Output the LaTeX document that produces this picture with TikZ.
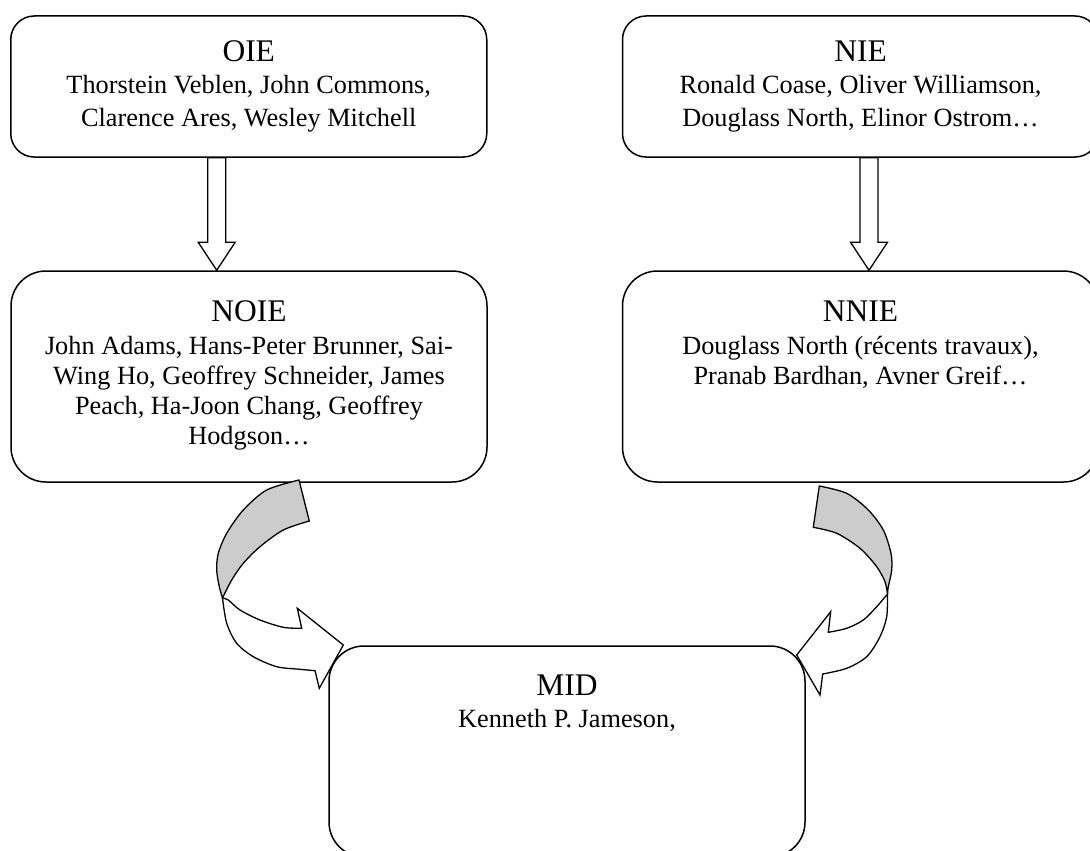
\documentclass[tikz,border=0pt]{standalone}
\usepackage{fontspec}
\setmainfont{Liberation Serif}
\usetikzlibrary{calc}
\begin{document}
\begin{tikzpicture}[x=1pt, y=-1pt, line join=miter,
  box/.style={draw, fill=white, line width=1.5pt, rectangle, rounded corners=#1,
              minimum width=476pt, inner sep=0pt},
  title/.style={anchor=base, inner sep=0pt, font=\fontsize{31.5}{36}\selectfont},
  % multi-line bodies are placed by the baseline of their last line
  body/.style={anchor=base, inner sep=0pt, align=center, font=\fontsize{26.3}{#1}\selectfont},
  blockarrow/.style={draw, fill=white, line width=1.3pt},
  ribbon/.style={draw, line width=1.3pt},
  ribbonback/.style={ribbon, fill=black!20},
  ribbonfront/.style={ribbon, fill=white}]

\useasboundingbox (0,0) rectangle (1090,851);
\clip (0,0) rectangle (1090,851);

% boxes
\node[box=23.5pt, minimum height=141pt] (oie)  at (248.75,86.5) {};
\node[box=23.5pt, minimum height=141pt] (nie)  at (860.5,86.5) {};
\node[box=35pt, minimum height=211pt]   (noie) at (249,376.5) {};
\node[box=35pt, minimum height=211pt]   (nnie) at (860.5,376.5) {};
\node[box=35pt, minimum height=211pt]   (mid)  at (567,751.5) {};

% texts
\node[title] (oiet) at (248.75,62) {OIE};
\node[body=32.5] (oieb) at (248.75,126) {Thorstein Veblen, John Commons,\\Clarence Ares, Wesley Mitchell};
\node[title] (niet) at (860.5,62) {NIE};
\node[body=32.5] (nieb) at (860.5,126) {Ronald Coase, Oliver Williamson,\\Douglass North, Elinor Ostrom…};
\node[title] (noiet) at (249,321) {NOIE};
\node[body=30] (noieb) at (249,444) {John Adams, Hans-Peter Brunner, Sai-\\Wing Ho, Geoffrey Schneider, James\\Peach, Ha-Joon Chang, Geoffrey\\Hodgson…};
\node[title] (nniet) at (860.5,321) {NNIE};
\node[body=30] (nnieb) at (860.5,384) {Douglass North (récents travaux),\\Pranab Bardhan, Avner Greif…};
\node[title] (midt) at (567,695) {MID};
\node[body=30] (midb) at (567,727) {Kenneth P. Jameson,};

% straight block arrows
\coordinate (d1s) at ($(oie.south)+(-32,0)$);
\coordinate (d1e) at ($(noie.north)+(-32.3,0)$);
\coordinate (d2s) at ($(nie.south)+(8.5,0)$);
\coordinate (d2e) at ($(nnie.north)+(8.5,0)$);
\foreach \s/\e in {d1s/d1e, d2s/d2e}{
  \draw[blockarrow] ($(\s)+(-9,0)$) -- ($(\e)+(-9,-28)$) -- ($(\e)+(-18.5,-28)$)
    -- (\e) -- ($(\e)+(18.5,-28)$) -- ($(\e)+(9,-28)$) -- ($(\s)+(9,0)$) -- cycle;
}

% curved arrow from NOIE to MID
\draw[ribbonfront] plot[smooth] coordinates {(222.5,598) (226.7,623.3) (236.7,643.3) (253.3,656.7) (276.7,666.7) (300,669.3) (315,670.7)}
  -- (319.3,688.3) -- (343.3,645) -- (297.3,608.3) -- (301.7,628.3)
  -- plot[smooth] coordinates {(301.7,628.3) (283.3,627.3) (260,620) (240,610) (228.3,600) (222.5,598)} -- cycle;
\draw[ribbonback] plot[smooth] coordinates {(299,480) (266.7,490) (243.3,510) (226.7,533.3) (218.3,553.3) (216.7,570) (219.3,586.7) (222.5,598)}
  -- plot[smooth] coordinates {(222.5,598) (231.7,580) (243.3,563.3) (260,546.7) (283.3,530) (309.3,521)} -- cycle;

% curved arrow from NNIE to MID
\draw[ribbonfront] plot[smooth] coordinates {(887.5,594) (886.7,616.7) (880,636.7) (866.7,656.7) (846.7,668.3) (822.7,674)}
  -- (820,695) -- (796.7,655) -- (830.7,611.7) -- (828.3,632.3)
  -- plot[smooth] coordinates {(828.3,632.3) (846.7,628.3) (863.3,620) (876.7,606.7) (887.5,594)} -- cycle;
\draw[ribbonback] plot[smooth] coordinates {(819.3,486) (846.7,493.3) (868.3,510) (883.3,530) (891,553.3) (891.7,570) (888.3,586.7) (887.5,594)}
  -- plot[smooth] coordinates {(887.5,594) (885,581.7) (876.7,566.7) (860,548.3) (836.7,533.3) (813.3,527.3)} -- cycle;
\end{tikzpicture}
\end{document}
